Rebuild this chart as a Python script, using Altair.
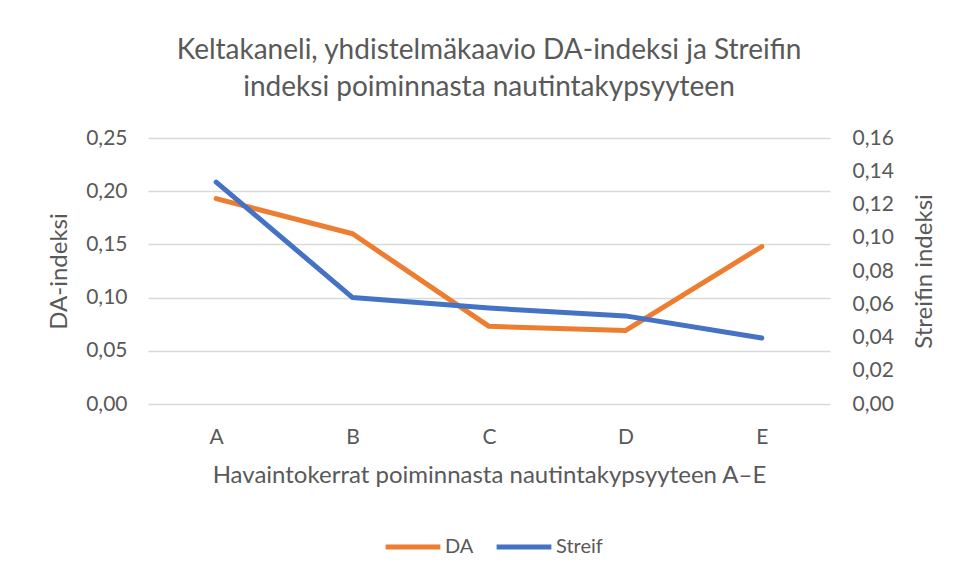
import altair as alt
import pandas as pd

categories = ["A", "B", "C", "D", "E"]
da_values = [0.193, 0.160, 0.073, 0.069, 0.148]
streif_values = [0.1335, 0.064, 0.0577, 0.053, 0.0397]
left_ticks = [0.0, 0.05, 0.10, 0.15, 0.20, 0.25]
right_ticks = [0.0, 0.02, 0.04, 0.06, 0.08, 0.10, 0.12, 0.14, 0.16]

df = pd.DataFrame({
    "cat": categories * 2,
    "series": ["DA"] * 5 + ["Streif"] * 5,
    "value": da_values + streif_values,
})

FONT = "Lato"
TXT = "#595959"
fmt = "replace(format(datum.value, '.2f'), '.', ',')"

x = alt.X("cat:N", scale=alt.Scale(type="point", padding=0.5),
          axis=alt.Axis(title="Havaintokerrat poiminnasta nautintakypsyyteen A–E",
                        labelAngle=0, ticks=False, domain=False, labelPadding=22,
                        titlePadding=16))

color = alt.Color("series:N",
                  scale=alt.Scale(domain=["DA", "Streif"], range=["#ED7D31", "#4472C4"]),
                  legend=alt.Legend(title=None, orient="none", legendX=235, legendY=379,
                                    direction="horizontal", symbolType="stroke",
                                    symbolSize=3000, symbolStrokeWidth=5,
                                    labelOffset=2, columnPadding=12))

da = alt.Chart(df).transform_filter("datum.series == 'DA'").mark_line(
    strokeWidth=5, strokeCap="round", strokeJoin="round").encode(
    x=x,
    y=alt.Y("value:Q", scale=alt.Scale(domain=[0, 0.25]),
            axis=alt.Axis(title="DA-indeksi", values=left_ticks, labelExpr=fmt,
                          ticks=False, domain=False, grid=True, labelPadding=21,
                          titlePadding=14)),
    color=color,
)

st = alt.Chart(df).transform_filter("datum.series == 'Streif'").mark_line(
    strokeWidth=5, strokeCap="round", strokeJoin="round").encode(
    x=x,
    y=alt.Y("value:Q", scale=alt.Scale(domain=[0, 0.16]),
            axis=alt.Axis(title="Streifin indeksi", orient="right", values=right_ticks,
                          labelExpr=fmt, ticks=False, domain=False, grid=False,
                          labelPadding=22, titleAngle=270, titleX=94, titleY=133,
                          titleAlign="center", titleBaseline="middle")),
    color=color,
)

chart = alt.layer(da, st).resolve_scale(y="independent").properties(
    width=682, height=266,
    autosize=alt.AutoSizeParams(type="none"),
    padding={"left": 140, "top": 130, "right": 120, "bottom": 170},
    title=alt.Title(["Keltakaneli, yhdistelmäkaavio DA-indeksi ja Streifin",
                     "indeksi poiminnasta nautintakypsyyteen"],
                    fontSize=28, font=FONT, color=TXT, fontWeight="normal",
                    lineHeight=37, offset=25, anchor="middle"),
).configure_view(stroke=None).configure_axis(
    labelFont=FONT, titleFont=FONT, labelColor=TXT, titleColor=TXT,
    labelFontSize=21, titleFontSize=24, titleFontWeight="normal",
    gridColor="#d9d9d9", gridWidth=1.5,
).configure_legend(labelFont=FONT, labelFontSize=20, labelColor=TXT)

chart.save("out.html", embed_options={"renderer": "svg", "actions": False})
